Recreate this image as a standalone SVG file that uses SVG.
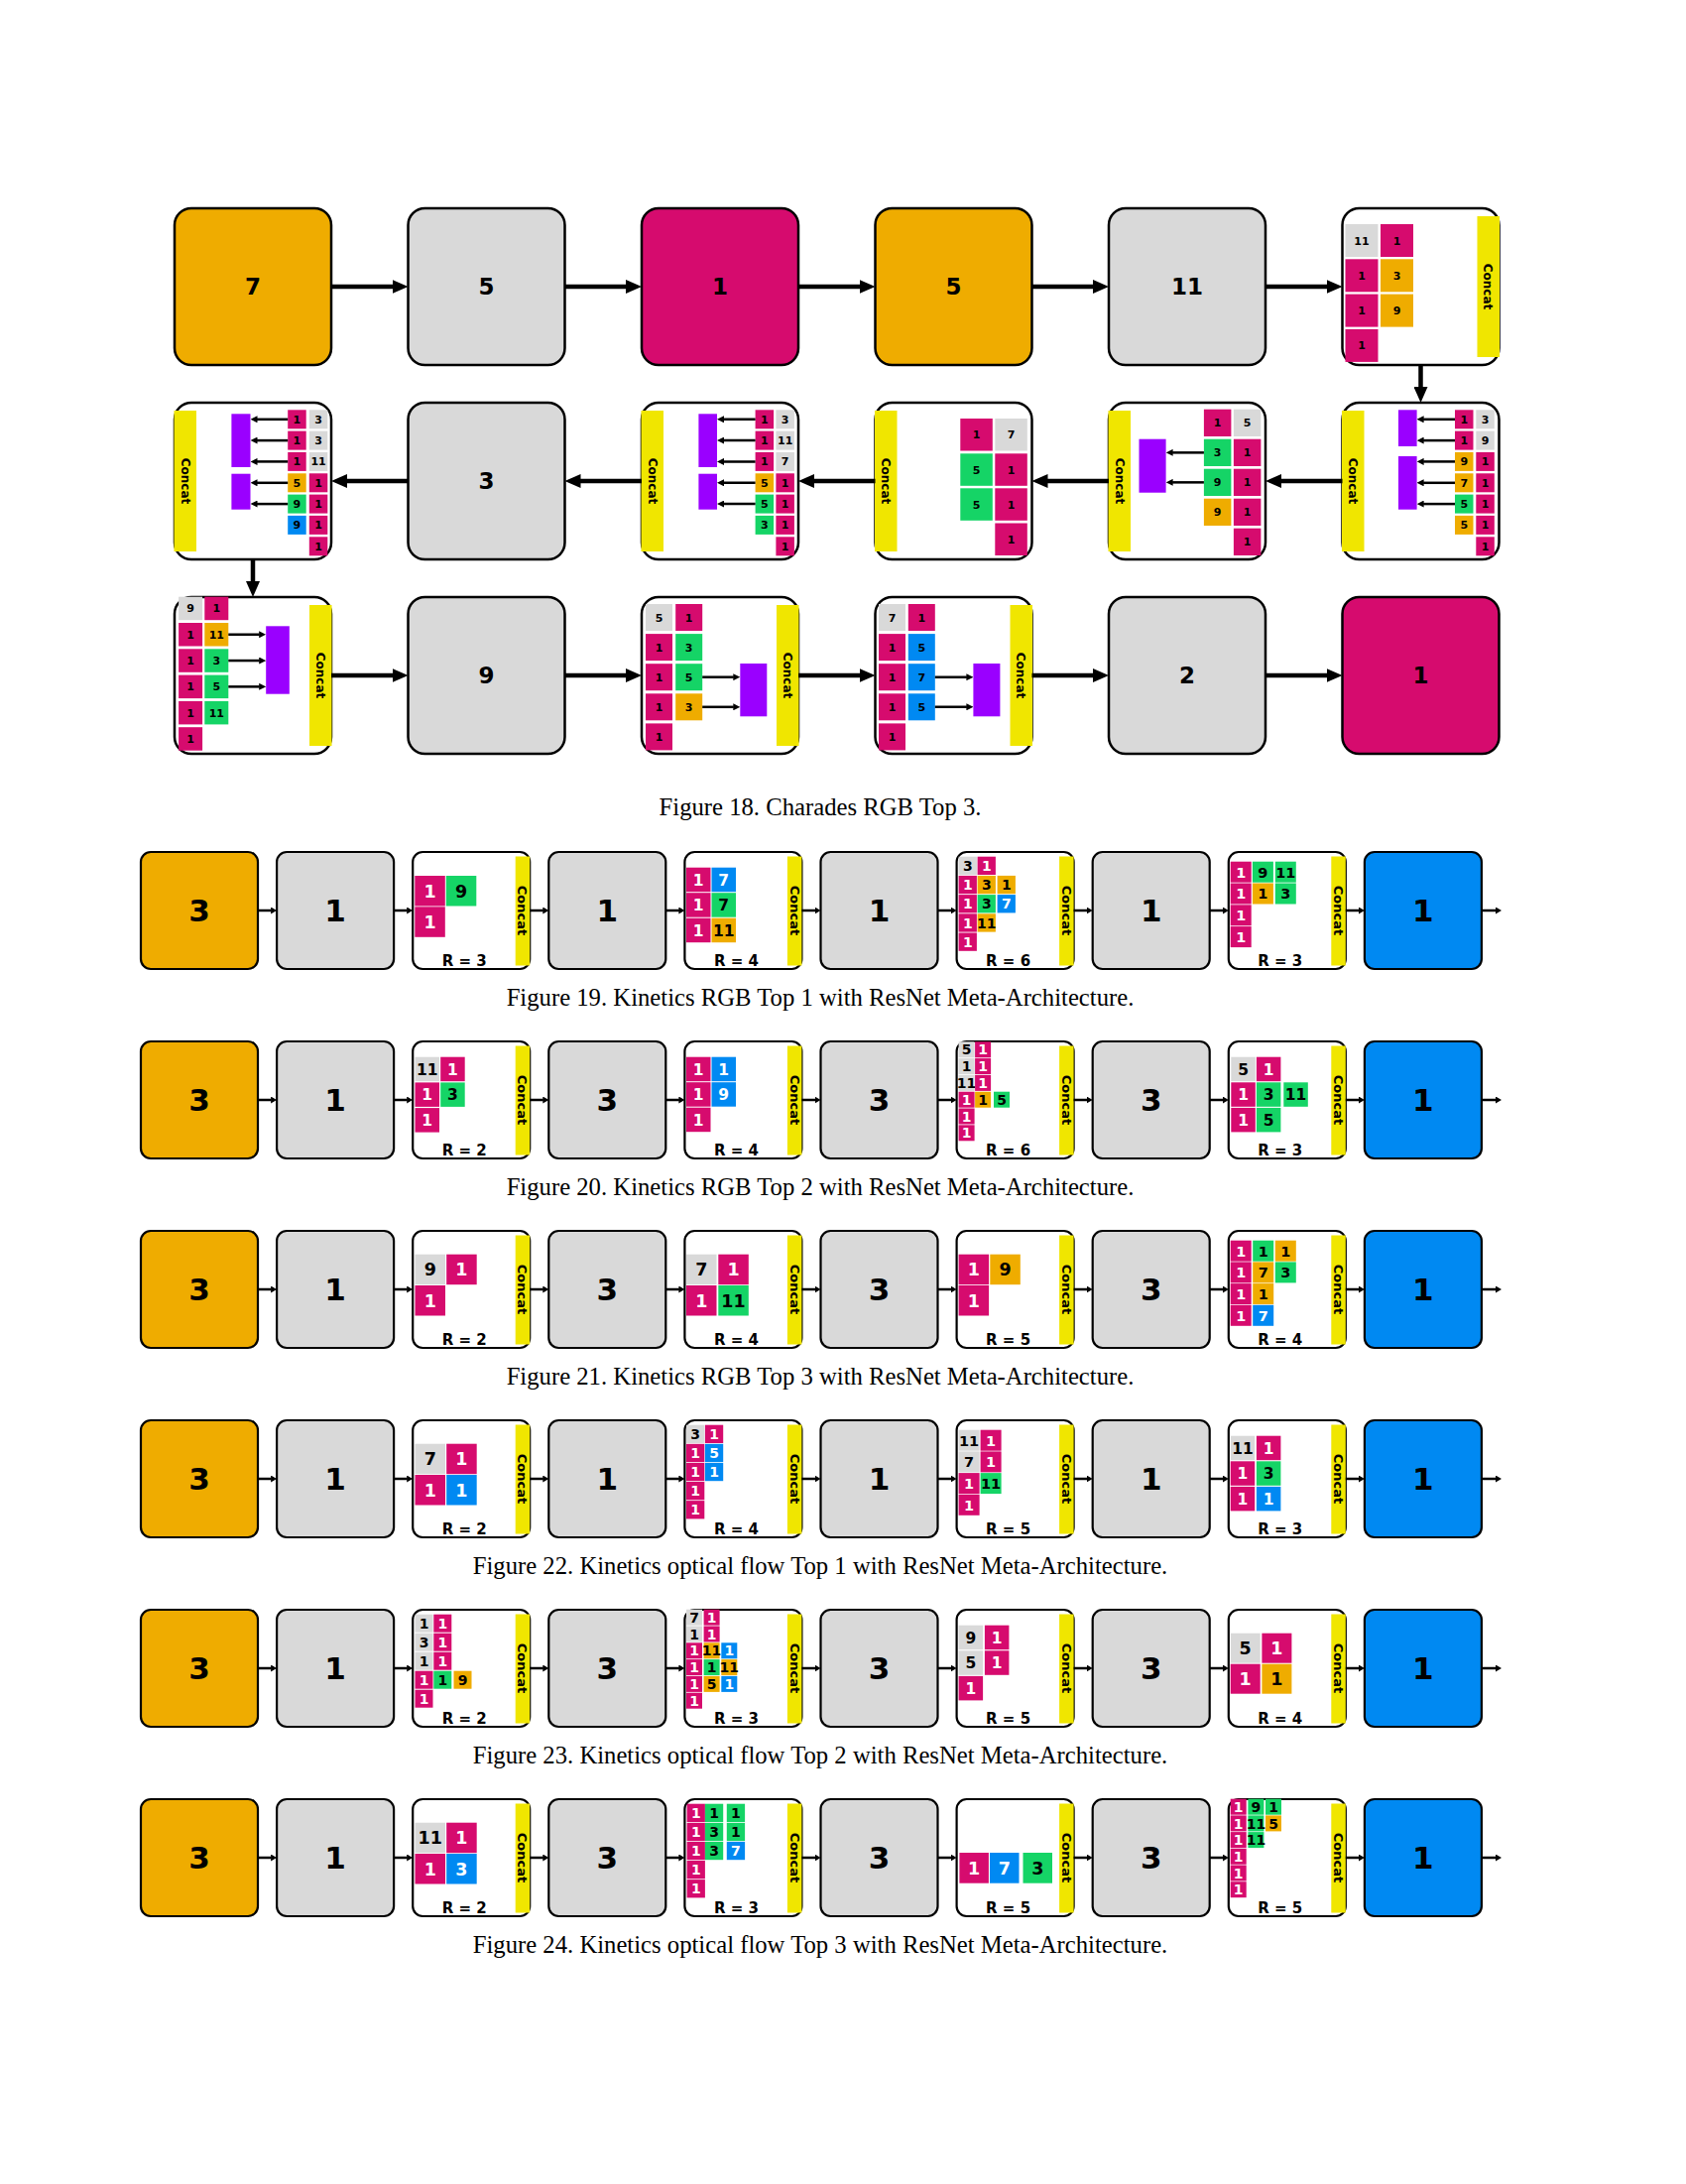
<svg xmlns="http://www.w3.org/2000/svg" width="1700" height="2202" viewBox="0 0 1700 2202">
<style>
.m{fill:#D60B6E}.o{fill:#EFAC00}.g{fill:#D9D9D9}.e{fill:#15D466}.b{fill:#0089F2}.y{fill:#F0E600}.p{fill:#9A00FF}
.bk{stroke:#000;stroke-width:2.2}
.bk18{stroke:#000;stroke-width:2.5}
.cw{fill:#fff;stroke:#000;stroke-width:2.2}
.cw18{fill:#fff;stroke:#000;stroke-width:2.5}
.t{font-family:"DejaVu Sans",Verdana,sans-serif;font-weight:bold;text-anchor:middle;fill:#000}
.w{fill:#fff}
.f11{font-size:11px}.f14{font-size:14px}.f145{font-size:14.5px}.f15{font-size:15.5px}.f17{font-size:17.5px}
.L23{font-size:23px}.L31{font-size:31px}.cc12{font-size:12px}.cc{font-size:13px}.r{font-size:15px}
.ln{stroke:#000;stroke-width:4.5;fill:none}
.ls{stroke:#000;stroke-width:2.5;fill:none}
.cap{font-family:"Liberation Serif","Times New Roman",serif;font-size:24.7px;text-anchor:middle;fill:#000}
</style>
<defs>
<marker id="ah" markerUnits="userSpaceOnUse" markerWidth="16" markerHeight="14" refX="1" refY="7" orient="auto"><path d="M0,0L16,7L0,14Z"/></marker>
<marker id="as" markerUnits="userSpaceOnUse" markerWidth="7" markerHeight="7" refX="0.5" refY="3.5" orient="auto"><path d="M0,0L7,3.5L0,7Z"/></marker>
<marker id="af" markerUnits="userSpaceOnUse" markerWidth="6" markerHeight="7" refX="0.5" refY="3.5" orient="auto"><path d="M0,0L6,3.5L0,7Z"/></marker>
</defs>
<rect width="1700" height="2202" fill="#fff"/>

<!-- ================= FIGURE 18 ================= -->
<g id="fig18">
<g id="f18-a1"><rect class="bk18 o" x="176" y="210" width="158" height="158" rx="17"/><text class="t L23" x="255" y="297.4">7</text></g>
<g id="f18-a2"><rect class="bk18 g" x="411.5" y="210" width="158" height="158" rx="17"/><text class="t L23" x="490.5" y="297.4">5</text></g>
<g id="f18-a3"><rect class="bk18 m" x="647" y="210" width="158" height="158" rx="17"/><text class="t L23" x="726" y="297.4">1</text></g>
<g id="f18-a4"><rect class="bk18 o" x="882.5" y="210" width="158" height="158" rx="17"/><text class="t L23" x="961.5" y="297.4">5</text></g>
<g id="f18-a5"><rect class="bk18 g" x="1118" y="210" width="158" height="158" rx="17"/><text class="t L23" x="1197" y="297.4">11</text></g>
<g id="f18-a6">
<rect class="cw18" x="1353.5" y="210" width="158" height="158" rx="17"/>
<rect class="y" x="1489.5" y="218" width="22.5" height="142"/>
<text class="t cc12" transform="translate(1500.5,289) rotate(90)" y="4.4">Concat</text>
<rect class="g" x="1356.5" y="226" width="33" height="33"/><text class="t f11" x="1373" y="246.5">11</text>
<rect class="m" x="1392" y="226" width="33" height="33"/><text class="t f11" x="1408.5" y="246.5">1</text>
<rect class="m" x="1356.5" y="261.3" width="33" height="33"/><text class="t f11" x="1373" y="281.8">1</text>
<rect class="o" x="1392" y="261.3" width="33" height="33"/><text class="t f11" x="1408.5" y="281.8">3</text>
<rect class="m" x="1356.5" y="296.6" width="33" height="33"/><text class="t f11" x="1373" y="317.1">1</text>
<rect class="o" x="1392" y="296.6" width="33" height="33"/><text class="t f11" x="1408.5" y="317.1">9</text>
<rect class="m" x="1356.5" y="331.9" width="33" height="33"/><text class="t f11" x="1373" y="352.4">1</text>
</g>

<g id="f18-b1">
<rect class="cw18" x="176" y="406" width="158" height="158" rx="17"/>
<rect class="y" x="175.5" y="414" width="22.5" height="142"/>
<text class="t cc12" transform="translate(187,485) rotate(90)" y="4.4">Concat</text>
<rect class="p" x="233.4" y="417.3" width="19.1" height="53.7"/>
<rect class="p" x="233.4" y="477.7" width="19.1" height="36"/>
<rect class="m" x="290.2" y="413.3" width="18.5" height="19"/><text class="t f11" x="299.45" y="426.8">1</text>
<rect class="g" x="311.8" y="413.3" width="18.5" height="19"/><text class="t f11" x="321.05" y="426.8">3</text>
<rect class="m" x="290.2" y="434.6" width="18.5" height="19"/><text class="t f11" x="299.45" y="448.1">1</text>
<rect class="g" x="311.8" y="434.6" width="18.5" height="19"/><text class="t f11" x="321.05" y="448.1">3</text>
<rect class="m" x="290.2" y="455.9" width="18.5" height="19"/><text class="t f11" x="299.45" y="469.4">1</text>
<rect class="g" x="311.8" y="455.9" width="18.5" height="19"/><text class="t f11" x="321.05" y="469.4">11</text>
<rect class="o" x="290.2" y="477.3" width="18.5" height="19"/><text class="t f11" x="299.45" y="490.8">5</text>
<rect class="m" x="311.8" y="477.3" width="18.5" height="19"/><text class="t f11" x="321.05" y="490.8">1</text>
<rect class="e" x="290.2" y="498.6" width="18.5" height="19"/><text class="t f11" x="299.45" y="512.1">9</text>
<rect class="m" x="311.8" y="498.6" width="18.5" height="19"/><text class="t f11" x="321.05" y="512.1">1</text>
<rect class="b" x="290.2" y="519.9" width="18.5" height="19"/><text class="t f11" x="299.45" y="533.4">9</text>
<rect class="m" x="311.8" y="519.9" width="18.5" height="19"/><text class="t f11" x="321.05" y="533.4">1</text>
<rect class="m" x="311.8" y="541.3" width="18.5" height="19"/><text class="t f11" x="321.05" y="554.8">1</text>
</g>
<g id="f18-b2"><rect class="bk18 g" x="411.5" y="406" width="158" height="158" rx="17"/><text class="t L23" x="490.5" y="493.4">3</text></g>
<g id="f18-b3">
<rect class="cw18" x="647" y="406" width="158" height="158" rx="17"/>
<rect class="y" x="646.5" y="414" width="22.5" height="142"/>
<text class="t cc12" transform="translate(658,485) rotate(90)" y="4.4">Concat</text>
<rect class="p" x="704.4" y="417.3" width="18.6" height="53.7"/>
<rect class="p" x="704.4" y="477.7" width="18.6" height="36"/>
<rect class="m" x="761.6" y="413.3" width="18.5" height="19"/><text class="t f11" x="770.85" y="426.8">1</text>
<rect class="g" x="782.4" y="413.3" width="18.5" height="19"/><text class="t f11" x="791.65" y="426.8">3</text>
<rect class="m" x="761.6" y="434.6" width="18.5" height="19"/><text class="t f11" x="770.85" y="448.1">1</text>
<rect class="g" x="782.4" y="434.6" width="18.5" height="19"/><text class="t f11" x="791.65" y="448.1">11</text>
<rect class="m" x="761.6" y="455.9" width="18.5" height="19"/><text class="t f11" x="770.85" y="469.4">1</text>
<rect class="g" x="782.4" y="455.9" width="18.5" height="19"/><text class="t f11" x="791.65" y="469.4">7</text>
<rect class="o" x="761.6" y="477.3" width="18.5" height="19"/><text class="t f11" x="770.85" y="490.8">5</text>
<rect class="m" x="782.4" y="477.3" width="18.5" height="19"/><text class="t f11" x="791.65" y="490.8">1</text>
<rect class="e" x="761.6" y="498.6" width="18.5" height="19"/><text class="t f11" x="770.85" y="512.1">5</text>
<rect class="m" x="782.4" y="498.6" width="18.5" height="19"/><text class="t f11" x="791.65" y="512.1">1</text>
<rect class="e" x="761.6" y="519.9" width="18.5" height="19"/><text class="t f11" x="770.85" y="533.4">3</text>
<rect class="m" x="782.4" y="519.9" width="18.5" height="19"/><text class="t f11" x="791.65" y="533.4">1</text>
<rect class="m" x="782.4" y="541.3" width="18.5" height="19"/><text class="t f11" x="791.65" y="554.8">1</text>
</g>
<g id="f18-b4">
<rect class="cw18" x="882.5" y="406" width="158" height="158" rx="17"/>
<rect class="y" x="882" y="414" width="22.5" height="142"/>
<text class="t cc12" transform="translate(893.5,485) rotate(90)" y="4.4">Concat</text>
<rect class="m" x="968.3" y="422" width="32.5" height="32.5"/><text class="t f11" x="984.55" y="442.25">1</text>
<rect class="g" x="1003.3" y="422" width="32.5" height="32.5"/><text class="t f11" x="1019.55" y="442.25">7</text>
<rect class="e" x="968.3" y="457.3" width="32.5" height="32.5"/><text class="t f11" x="984.55" y="477.55">5</text>
<rect class="m" x="1003.3" y="457.3" width="32.5" height="32.5"/><text class="t f11" x="1019.55" y="477.55">1</text>
<rect class="e" x="968.3" y="492.3" width="32.5" height="32.5"/><text class="t f11" x="984.55" y="512.55">5</text>
<rect class="m" x="1003.3" y="492.3" width="32.5" height="32.5"/><text class="t f11" x="1019.55" y="512.55">1</text>
<rect class="m" x="1003.3" y="527.5" width="32.5" height="32.5"/><text class="t f11" x="1019.55" y="547.75">1</text>
</g>
<g id="f18-b5">
<rect class="cw18" x="1118" y="406" width="158" height="158" rx="17"/>
<rect class="y" x="1117.5" y="414" width="22.5" height="142"/>
<text class="t cc12" transform="translate(1129,485) rotate(90)" y="4.4">Concat</text>
<rect class="p" x="1148.5" y="442.7" width="27.1" height="54"/>
<rect class="m" x="1213.9" y="412.7" width="27.5" height="27.3"/><text class="t f11" x="1227.65" y="430.35">1</text>
<rect class="g" x="1243.9" y="412.7" width="27.5" height="27.3"/><text class="t f11" x="1257.65" y="430.35">5</text>
<rect class="e" x="1213.9" y="442.7" width="27.5" height="27.3"/><text class="t f11" x="1227.65" y="460.35">3</text>
<rect class="m" x="1243.9" y="442.7" width="27.5" height="27.3"/><text class="t f11" x="1257.65" y="460.35">1</text>
<rect class="e" x="1213.9" y="472.7" width="27.5" height="27.3"/><text class="t f11" x="1227.65" y="490.35">9</text>
<rect class="m" x="1243.9" y="472.7" width="27.5" height="27.3"/><text class="t f11" x="1257.65" y="490.35">1</text>
<rect class="o" x="1213.9" y="502.7" width="27.5" height="27.3"/><text class="t f11" x="1227.65" y="520.35">9</text>
<rect class="m" x="1243.9" y="502.7" width="27.5" height="27.3"/><text class="t f11" x="1257.65" y="520.35">1</text>
<rect class="m" x="1243.9" y="532.7" width="27.5" height="27.3"/><text class="t f11" x="1257.65" y="550.35">1</text>
</g>
<g id="f18-b6">
<rect class="cw18" x="1353.5" y="406" width="158" height="158" rx="17"/>
<rect class="y" x="1353" y="414" width="22.5" height="142"/>
<text class="t cc12" transform="translate(1364.5,485) rotate(90)" y="4.4">Concat</text>
<rect class="p" x="1410" y="413.3" width="18.6" height="36.7"/>
<rect class="p" x="1410" y="460" width="18.6" height="53.7"/>
<rect class="m" x="1467" y="413.3" width="18.5" height="19"/><text class="t f11" x="1476.25" y="426.8">1</text>
<rect class="g" x="1488.3" y="413.3" width="18.5" height="19"/><text class="t f11" x="1497.55" y="426.8">3</text>
<rect class="m" x="1467" y="434.6" width="18.5" height="19"/><text class="t f11" x="1476.25" y="448.1">1</text>
<rect class="g" x="1488.3" y="434.6" width="18.5" height="19"/><text class="t f11" x="1497.55" y="448.1">9</text>
<rect class="o" x="1467" y="455.9" width="18.5" height="19"/><text class="t f11" x="1476.25" y="469.4">9</text>
<rect class="m" x="1488.3" y="455.9" width="18.5" height="19"/><text class="t f11" x="1497.55" y="469.4">1</text>
<rect class="o" x="1467" y="477.3" width="18.5" height="19"/><text class="t f11" x="1476.25" y="490.8">7</text>
<rect class="m" x="1488.3" y="477.3" width="18.5" height="19"/><text class="t f11" x="1497.55" y="490.8">1</text>
<rect class="e" x="1467" y="498.6" width="18.5" height="19"/><text class="t f11" x="1476.25" y="512.1">5</text>
<rect class="m" x="1488.3" y="498.6" width="18.5" height="19"/><text class="t f11" x="1497.55" y="512.1">1</text>
<rect class="o" x="1467" y="519.9" width="18.5" height="19"/><text class="t f11" x="1476.25" y="533.4">5</text>
<rect class="m" x="1488.3" y="519.9" width="18.5" height="19"/><text class="t f11" x="1497.55" y="533.4">1</text>
<rect class="m" x="1488.3" y="541.3" width="18.5" height="19"/><text class="t f11" x="1497.55" y="554.8">1</text>
</g>

<g id="f18-c1">
<rect class="cw18" x="176" y="602" width="158" height="158" rx="17"/>
<rect class="y" x="312" y="610" width="22.5" height="142"/>
<text class="t cc12" transform="translate(323,681) rotate(90)" y="4.4">Concat</text>
<rect class="p" x="268.2" y="631.3" width="23.6" height="68.4"/>
<rect class="g" x="180.1" y="601.7" width="24" height="23.5"/><text class="t f11" x="192.1" y="617.45">9</text>
<rect class="m" x="206.3" y="601.7" width="24" height="23.5"/><text class="t f11" x="218.3" y="617.45">1</text>
<rect class="m" x="180.1" y="628" width="24" height="23.5"/><text class="t f11" x="192.1" y="643.75">1</text>
<rect class="o" x="206.3" y="628" width="24" height="23.5"/><text class="t f11" x="218.3" y="643.75">11</text>
<rect class="m" x="180.1" y="654.3" width="24" height="23.5"/><text class="t f11" x="192.1" y="670.05">1</text>
<rect class="e" x="206.3" y="654.3" width="24" height="23.5"/><text class="t f11" x="218.3" y="670.05">3</text>
<rect class="m" x="180.1" y="680.6" width="24" height="23.5"/><text class="t f11" x="192.1" y="696.35">1</text>
<rect class="e" x="206.3" y="680.6" width="24" height="23.5"/><text class="t f11" x="218.3" y="696.35">5</text>
<rect class="m" x="180.1" y="706.9" width="24" height="23.5"/><text class="t f11" x="192.1" y="722.65">1</text>
<rect class="e" x="206.3" y="706.9" width="24" height="23.5"/><text class="t f11" x="218.3" y="722.65">11</text>
<rect class="m" x="180.1" y="733.2" width="24" height="23.5"/><text class="t f11" x="192.1" y="748.95">1</text>
</g>
<g id="f18-c2"><rect class="bk18 g" x="411.5" y="602" width="158" height="158" rx="17"/><text class="t L23" x="490.5" y="689.4">9</text></g>
<g id="f18-c3">
<rect class="cw18" x="647" y="602" width="158" height="158" rx="17"/>
<rect class="y" x="783" y="610" width="22.5" height="142"/>
<text class="t cc12" transform="translate(794,681) rotate(90)" y="4.4">Concat</text>
<rect class="p" x="746.3" y="669" width="27" height="53.3"/>
<rect class="g" x="651" y="609" width="27" height="27"/><text class="t f11" x="664.5" y="626.5">5</text>
<rect class="m" x="681.2" y="609" width="27" height="27"/><text class="t f11" x="694.7" y="626.5">1</text>
<rect class="m" x="651" y="639.1" width="27" height="27"/><text class="t f11" x="664.5" y="656.6">1</text>
<rect class="e" x="681.2" y="639.1" width="27" height="27"/><text class="t f11" x="694.7" y="656.6">3</text>
<rect class="m" x="651" y="669.2" width="27" height="27"/><text class="t f11" x="664.5" y="686.7">1</text>
<rect class="e" x="681.2" y="669.2" width="27" height="27"/><text class="t f11" x="694.7" y="686.7">5</text>
<rect class="m" x="651" y="699.3" width="27" height="27"/><text class="t f11" x="664.5" y="716.8">1</text>
<rect class="o" x="681.2" y="699.3" width="27" height="27"/><text class="t f11" x="694.7" y="716.8">3</text>
<rect class="m" x="651" y="729.4" width="27" height="27"/><text class="t f11" x="664.5" y="746.9">1</text>
</g>
<g id="f18-c4">
<rect class="cw18" x="882.5" y="602" width="158" height="158" rx="17"/>
<rect class="y" x="1018.5" y="610" width="22.5" height="142"/>
<text class="t cc12" transform="translate(1029.5,681) rotate(90)" y="4.4">Concat</text>
<rect class="p" x="981.4" y="669" width="27" height="53.3"/>
<rect class="g" x="886" y="609" width="27" height="27"/><text class="t f11" x="899.5" y="626.5">7</text>
<rect class="m" x="915.8" y="609" width="27" height="27"/><text class="t f11" x="929.3" y="626.5">1</text>
<rect class="m" x="886" y="639.1" width="27" height="27"/><text class="t f11" x="899.5" y="656.6">1</text>
<rect class="b" x="915.8" y="639.1" width="27" height="27"/><text class="t f11" x="929.3" y="656.6">5</text>
<rect class="m" x="886" y="669.2" width="27" height="27"/><text class="t f11" x="899.5" y="686.7">1</text>
<rect class="b" x="915.8" y="669.2" width="27" height="27"/><text class="t f11" x="929.3" y="686.7">7</text>
<rect class="m" x="886" y="699.3" width="27" height="27"/><text class="t f11" x="899.5" y="716.8">1</text>
<rect class="b" x="915.8" y="699.3" width="27" height="27"/><text class="t f11" x="929.3" y="716.8">5</text>
<rect class="m" x="886" y="729.4" width="27" height="27"/><text class="t f11" x="899.5" y="746.9">1</text>
</g>
<g id="f18-c5"><rect class="bk18 g" x="1118" y="602" width="158" height="158" rx="17"/><text class="t L23" x="1197" y="689.4">2</text></g>
<g id="f18-c6"><rect class="bk18 m" x="1353.5" y="602" width="158" height="158" rx="17"/><text class="t L23" x="1432.5" y="689.4">1</text></g>
</g>

<g id="connectors18">
<line class="ln" x1="334" y1="289" x2="396.5" y2="289" marker-end="url(#ah)"/>
<line class="ln" x1="569.5" y1="289" x2="632" y2="289" marker-end="url(#ah)"/>
<line class="ln" x1="805" y1="289" x2="867.5" y2="289" marker-end="url(#ah)"/>
<line class="ln" x1="1040.5" y1="289" x2="1103" y2="289" marker-end="url(#ah)"/>
<line class="ln" x1="1276" y1="289" x2="1338.5" y2="289" marker-end="url(#ah)"/>
<line class="ln" x1="1432.5" y1="368" x2="1432.5" y2="391" marker-end="url(#ah)"/>
<line class="ln" x1="1353.5" y1="485" x2="1291" y2="485" marker-end="url(#ah)"/>
<line class="ln" x1="1118" y1="485" x2="1055.5" y2="485" marker-end="url(#ah)"/>
<line class="ln" x1="882.5" y1="485" x2="820" y2="485" marker-end="url(#ah)"/>
<line class="ln" x1="647" y1="485" x2="584.5" y2="485" marker-end="url(#ah)"/>
<line class="ln" x1="411.5" y1="485" x2="349" y2="485" marker-end="url(#ah)"/>
<line class="ln" x1="255" y1="564" x2="255" y2="587" marker-end="url(#ah)"/>
<line class="ln" x1="334" y1="681" x2="396.5" y2="681" marker-end="url(#ah)"/>
<line class="ln" x1="569.5" y1="681" x2="632" y2="681" marker-end="url(#ah)"/>
<line class="ln" x1="805" y1="681" x2="867.5" y2="681" marker-end="url(#ah)"/>
<line class="ln" x1="1040.5" y1="681" x2="1103" y2="681" marker-end="url(#ah)"/>
<line class="ln" x1="1276" y1="681" x2="1338.5" y2="681" marker-end="url(#ah)"/>
<line class="ls" x1="290.2" y1="422.8" x2="259" y2="422.8" marker-end="url(#as)"/>
<line class="ls" x1="290.2" y1="444.1" x2="259" y2="444.1" marker-end="url(#as)"/>
<line class="ls" x1="290.2" y1="465.4" x2="259" y2="465.4" marker-end="url(#as)"/>
<line class="ls" x1="290.2" y1="486.8" x2="259" y2="486.8" marker-end="url(#as)"/>
<line class="ls" x1="290.2" y1="508.1" x2="259" y2="508.1" marker-end="url(#as)"/>
<line class="ls" x1="761.6" y1="422.8" x2="729.5" y2="422.8" marker-end="url(#as)"/>
<line class="ls" x1="761.6" y1="444.1" x2="729.5" y2="444.1" marker-end="url(#as)"/>
<line class="ls" x1="761.6" y1="465.4" x2="729.5" y2="465.4" marker-end="url(#as)"/>
<line class="ls" x1="761.6" y1="486.8" x2="729.5" y2="486.8" marker-end="url(#as)"/>
<line class="ls" x1="761.6" y1="508.1" x2="729.5" y2="508.1" marker-end="url(#as)"/>
<line class="ls" x1="1213.9" y1="456.35" x2="1182.1" y2="456.35" marker-end="url(#as)"/>
<line class="ls" x1="1213.9" y1="486.35" x2="1182.1" y2="486.35" marker-end="url(#as)"/>
<line class="ls" x1="1467" y1="422.8" x2="1435.1" y2="422.8" marker-end="url(#as)"/>
<line class="ls" x1="1467" y1="444.1" x2="1435.1" y2="444.1" marker-end="url(#as)"/>
<line class="ls" x1="1467" y1="465.4" x2="1435.1" y2="465.4" marker-end="url(#as)"/>
<line class="ls" x1="1467" y1="486.8" x2="1435.1" y2="486.8" marker-end="url(#as)"/>
<line class="ls" x1="1467" y1="508.1" x2="1435.1" y2="508.1" marker-end="url(#as)"/>
<line class="ls" x1="230.3" y1="639.75" x2="261.7" y2="639.75" marker-end="url(#as)"/>
<line class="ls" x1="230.3" y1="666.05" x2="261.7" y2="666.05" marker-end="url(#as)"/>
<line class="ls" x1="230.3" y1="692.35" x2="261.7" y2="692.35" marker-end="url(#as)"/>
<line class="ls" x1="708.2" y1="682.7" x2="739.8" y2="682.7" marker-end="url(#as)"/>
<line class="ls" x1="708.2" y1="712.8" x2="739.8" y2="712.8" marker-end="url(#as)"/>
<line class="ls" x1="942.8" y1="682.7" x2="974.9" y2="682.7" marker-end="url(#as)"/>
<line class="ls" x1="942.8" y1="712.8" x2="974.9" y2="712.8" marker-end="url(#as)"/>
</g>
<text class="cap" x="827" y="821.5">Figure 18. Charades RGB Top 3.</text>

<!-- ================= FIGURE 19 ================= -->
<g id="fig19">
<g id="f19-n1"><rect class="bk o" x="142" y="859" width="118" height="118" rx="10"/><text class="t L31" x="201" y="929.3">3</text></g>
<g id="f19-n2"><rect class="bk g" x="279.1" y="859" width="118" height="118" rx="10"/><text class="t L31" x="338.1" y="929.3">1</text></g>
<g id="f19-n3">
<rect class="cw" x="416.2" y="859" width="118" height="118" rx="10"/><rect class="y" x="519.7" y="863.5" width="14.5" height="110"/>
<text class="t cc" transform="translate(527.2,918) rotate(90)" y="4.7">Concat</text><text class="t r" x="468.2" y="974">R = 3</text>
<rect class="m" x="418.3" y="883" width="30.5" height="30.5"/><text class="t f17 w" x="433.55" y="904.6">1</text>
<rect class="e" x="449.8" y="883" width="30.5" height="30.5"/><text class="t f17" x="465.05" y="904.6">9</text>
<rect class="m" x="418.3" y="914.3" width="30.5" height="30.5"/><text class="t f17 w" x="433.55" y="935.9">1</text>
</g>
<g id="f19-n4"><rect class="bk g" x="553.3" y="859" width="118" height="118" rx="10"/><text class="t L31" x="612.3" y="929.3">1</text></g>
<g id="f19-n5">
<rect class="cw" x="690.4" y="859" width="118" height="118" rx="10"/><rect class="y" x="793.9" y="863.5" width="14.5" height="110"/>
<text class="t cc" transform="translate(801.4,918) rotate(90)" y="4.7">Concat</text><text class="t r" x="742.4" y="974">R = 4</text>
<rect class="m" x="692" y="874.7" width="24.5" height="24.5"/><text class="t f15 w" x="704.25" y="892.6">1</text>
<rect class="b" x="717.5" y="874.7" width="24.5" height="24.5"/><text class="t f15 w" x="729.75" y="892.6">7</text>
<rect class="m" x="692" y="900.2" width="24.5" height="24.5"/><text class="t f15 w" x="704.25" y="918.1">1</text>
<rect class="e" x="717.5" y="900.2" width="24.5" height="24.5"/><text class="t f15" x="729.75" y="918.1">7</text>
<rect class="m" x="692" y="925.7" width="24.5" height="24.5"/><text class="t f15 w" x="704.25" y="943.6">1</text>
<rect class="o" x="717.5" y="925.7" width="24.5" height="24.5"/><text class="t f15" x="729.75" y="943.6">11</text>
</g>
<g id="f19-n6"><rect class="bk g" x="827.5" y="859" width="118" height="118" rx="10"/><text class="t L31" x="886.5" y="929.3">1</text></g>
<g id="f19-n7">
<rect class="cw" x="964.6" y="859" width="118" height="118" rx="10"/><rect class="y" x="1068.1" y="863.5" width="14.5" height="110"/>
<text class="t cc" transform="translate(1075.6,918) rotate(90)" y="4.7">Concat</text><text class="t r" x="1016.6" y="974">R = 6</text>
<rect class="g" x="966.6" y="863.7" width="18.3" height="18.3"/><text class="t f14" x="975.75" y="877.95">3</text>
<rect class="m" x="985.6" y="863.7" width="18.3" height="18.3"/><text class="t f14 w" x="994.75" y="877.95">1</text>
<rect class="m" x="966.6" y="882.9" width="18.3" height="18.3"/><text class="t f14 w" x="975.75" y="897.15">1</text>
<rect class="o" x="985.6" y="882.9" width="18.3" height="18.3"/><text class="t f14" x="994.75" y="897.15">3</text>
<rect class="o" x="1005.6" y="882.9" width="18.3" height="18.3"/><text class="t f14" x="1014.75" y="897.15">1</text>
<rect class="m" x="966.6" y="902.1" width="18.3" height="18.3"/><text class="t f14 w" x="975.75" y="916.35">1</text>
<rect class="e" x="985.6" y="902.1" width="18.3" height="18.3"/><text class="t f14" x="994.75" y="916.35">3</text>
<rect class="b" x="1005.6" y="902.1" width="18.3" height="18.3"/><text class="t f14 w" x="1014.75" y="916.35">7</text>
<rect class="m" x="966.6" y="921.3" width="18.3" height="18.3"/><text class="t f14 w" x="975.75" y="935.55">1</text>
<rect class="o" x="985.6" y="921.3" width="18.3" height="18.3"/><text class="t f14" x="994.75" y="935.55">11</text>
<rect class="m" x="966.6" y="940.5" width="18.3" height="18.3"/><text class="t f14 w" x="975.75" y="954.75">1</text>
</g>
<g id="f19-n8"><rect class="bk g" x="1101.7" y="859" width="118" height="118" rx="10"/><text class="t L31" x="1160.7" y="929.3">1</text></g>
<g id="f19-n9">
<rect class="cw" x="1238.8" y="859" width="118" height="118" rx="10"/><rect class="y" x="1342.3" y="863.5" width="14.5" height="110"/>
<text class="t cc" transform="translate(1349.8,918) rotate(90)" y="4.7">Concat</text><text class="t r" x="1290.8" y="974">R = 3</text>
<rect class="m" x="1240.7" y="868.7" width="21" height="21"/><text class="t f145 w" x="1251.2" y="884.5">1</text>
<rect class="e" x="1262.9" y="868.7" width="21" height="21"/><text class="t f145" x="1273.4" y="884.5">9</text>
<rect class="e" x="1285.8" y="868.7" width="21" height="21"/><text class="t f145" x="1296.3" y="884.5">11</text>
<rect class="m" x="1240.7" y="890.5" width="21" height="21"/><text class="t f145 w" x="1251.2" y="906.3">1</text>
<rect class="o" x="1262.9" y="890.5" width="21" height="21"/><text class="t f145" x="1273.4" y="906.3">1</text>
<rect class="e" x="1285.8" y="890.5" width="21" height="21"/><text class="t f145" x="1296.3" y="906.3">3</text>
<rect class="m" x="1240.7" y="912.3" width="21" height="21"/><text class="t f145 w" x="1251.2" y="928.1">1</text>
<rect class="m" x="1240.7" y="934.1" width="21" height="21"/><text class="t f145 w" x="1251.2" y="949.9">1</text>
</g>
<g id="f19-n10"><rect class="bk b" x="1375.9" y="859" width="118" height="118" rx="10"/><text class="t L31" x="1434.9" y="929.3">1</text></g>
</g>

<!-- ================= FIGURE 20 ================= -->
<g id="fig20">
<g id="f20-n1"><rect class="bk o" x="142" y="1050" width="118" height="118" rx="10"/><text class="t L31" x="201" y="1120.3">3</text></g>
<g id="f20-n2"><rect class="bk g" x="279.1" y="1050" width="118" height="118" rx="10"/><text class="t L31" x="338.1" y="1120.3">1</text></g>
<g id="f20-n3">
<rect class="cw" x="416.2" y="1050" width="118" height="118" rx="10"/><rect class="y" x="519.7" y="1054.5" width="14.5" height="110"/>
<text class="t cc" transform="translate(527.2,1109) rotate(90)" y="4.7">Concat</text><text class="t r" x="468.2" y="1165">R = 2</text>
<rect class="g" x="418.5" y="1065.7" width="24.5" height="24.5"/><text class="t f15" x="430.75" y="1083.6">11</text>
<rect class="m" x="444.2" y="1065.7" width="24.5" height="24.5"/><text class="t f15 w" x="456.45" y="1083.6">1</text>
<rect class="m" x="418.5" y="1091.4" width="24.5" height="24.5"/><text class="t f15 w" x="430.75" y="1109.3">1</text>
<rect class="e" x="444.2" y="1091.4" width="24.5" height="24.5"/><text class="t f15" x="456.45" y="1109.3">3</text>
<rect class="m" x="418.5" y="1117.1" width="24.5" height="24.5"/><text class="t f15 w" x="430.75" y="1135">1</text>
</g>
<g id="f20-n4"><rect class="bk g" x="553.3" y="1050" width="118" height="118" rx="10"/><text class="t L31" x="612.3" y="1120.3">3</text></g>
<g id="f20-n5">
<rect class="cw" x="690.4" y="1050" width="118" height="118" rx="10"/><rect class="y" x="793.9" y="1054.5" width="14.5" height="110"/>
<text class="t cc" transform="translate(801.4,1109) rotate(90)" y="4.7">Concat</text><text class="t r" x="742.4" y="1165">R = 4</text>
<rect class="m" x="692" y="1065.7" width="24.5" height="24.5"/><text class="t f15 w" x="704.25" y="1083.6">1</text>
<rect class="b" x="717.5" y="1065.7" width="24.5" height="24.5"/><text class="t f15 w" x="729.75" y="1083.6">1</text>
<rect class="m" x="692" y="1091.2" width="24.5" height="24.5"/><text class="t f15 w" x="704.25" y="1109.1">1</text>
<rect class="b" x="717.5" y="1091.2" width="24.5" height="24.5"/><text class="t f15 w" x="729.75" y="1109.1">9</text>
<rect class="m" x="692" y="1116.7" width="24.5" height="24.5"/><text class="t f15 w" x="704.25" y="1134.6">1</text>
</g>
<g id="f20-n6"><rect class="bk g" x="827.5" y="1050" width="118" height="118" rx="10"/><text class="t L31" x="886.5" y="1120.3">3</text></g>
<g id="f20-n7">
<rect class="cw" x="964.6" y="1050" width="118" height="118" rx="10"/><rect class="y" x="1068.1" y="1054.5" width="14.5" height="110"/>
<text class="t cc" transform="translate(1075.6,1109) rotate(90)" y="4.7">Concat</text><text class="t r" x="1016.6" y="1165">R = 6</text>
<rect class="g" x="966.6" y="1050.3" width="16" height="16"/><text class="t f14" x="974.6" y="1063.4">5</text>
<rect class="m" x="983.1" y="1050.3" width="16" height="16"/><text class="t f14 w" x="991.1" y="1063.4">1</text>
<rect class="g" x="966.6" y="1067.1" width="16" height="16"/><text class="t f14" x="974.6" y="1080.2">1</text>
<rect class="m" x="983.1" y="1067.1" width="16" height="16"/><text class="t f14 w" x="991.1" y="1080.2">1</text>
<rect class="g" x="966.6" y="1083.9" width="16" height="16"/><text class="t f14" x="974.6" y="1097">11</text>
<rect class="m" x="983.1" y="1083.9" width="16" height="16"/><text class="t f14 w" x="991.1" y="1097">1</text>
<rect class="m" x="966.6" y="1100.7" width="16" height="16"/><text class="t f14 w" x="974.6" y="1113.8">1</text>
<rect class="o" x="983.1" y="1100.7" width="16" height="16"/><text class="t f14" x="991.1" y="1113.8">1</text>
<rect class="e" x="1002" y="1100.7" width="16" height="16"/><text class="t f14" x="1010" y="1113.8">5</text>
<rect class="m" x="966.6" y="1117.5" width="16" height="16"/><text class="t f14 w" x="974.6" y="1130.6">1</text>
<rect class="m" x="966.6" y="1134.3" width="16" height="16"/><text class="t f14 w" x="974.6" y="1147.4">1</text>
</g>
<g id="f20-n8"><rect class="bk g" x="1101.7" y="1050" width="118" height="118" rx="10"/><text class="t L31" x="1160.7" y="1120.3">3</text></g>
<g id="f20-n9">
<rect class="cw" x="1238.8" y="1050" width="118" height="118" rx="10"/><rect class="y" x="1342.3" y="1054.5" width="14.5" height="110"/>
<text class="t cc" transform="translate(1349.8,1109) rotate(90)" y="4.7">Concat</text><text class="t r" x="1290.8" y="1165">R = 3</text>
<rect class="g" x="1241.3" y="1065.7" width="24.5" height="24.5"/><text class="t f15" x="1253.55" y="1083.6">5</text>
<rect class="m" x="1266.9" y="1065.7" width="24.5" height="24.5"/><text class="t f15 w" x="1279.15" y="1083.6">1</text>
<rect class="m" x="1241.3" y="1091.3" width="24.5" height="24.5"/><text class="t f15 w" x="1253.55" y="1109.2">1</text>
<rect class="e" x="1266.9" y="1091.3" width="24.5" height="24.5"/><text class="t f15" x="1279.15" y="1109.2">3</text>
<rect class="e" x="1294.3" y="1091.3" width="24.5" height="24.5"/><text class="t f15" x="1306.55" y="1109.2">11</text>
<rect class="m" x="1241.3" y="1116.9" width="24.5" height="24.5"/><text class="t f15 w" x="1253.55" y="1134.8">1</text>
<rect class="e" x="1266.9" y="1116.9" width="24.5" height="24.5"/><text class="t f15" x="1279.15" y="1134.8">5</text>
</g>
<g id="f20-n10"><rect class="bk b" x="1375.9" y="1050" width="118" height="118" rx="10"/><text class="t L31" x="1434.9" y="1120.3">1</text></g>
</g>

<!-- ================= FIGURE 21 ================= -->
<g id="fig21">
<g id="f21-n1"><rect class="bk o" x="142" y="1241" width="118" height="118" rx="10"/><text class="t L31" x="201" y="1311.3">3</text></g>
<g id="f21-n2"><rect class="bk g" x="279.1" y="1241" width="118" height="118" rx="10"/><text class="t L31" x="338.1" y="1311.3">1</text></g>
<g id="f21-n3">
<rect class="cw" x="416.2" y="1241" width="118" height="118" rx="10"/><rect class="y" x="519.7" y="1245.5" width="14.5" height="110"/>
<text class="t cc" transform="translate(527.2,1300) rotate(90)" y="4.7">Concat</text><text class="t r" x="468.2" y="1356">R = 2</text>
<rect class="g" x="418.5" y="1264.7" width="30.5" height="30.5"/><text class="t f17" x="433.75" y="1286.3">9</text>
<rect class="m" x="450.2" y="1264.7" width="30.5" height="30.5"/><text class="t f17 w" x="465.45" y="1286.3">1</text>
<rect class="m" x="418.5" y="1296" width="30.5" height="30.5"/><text class="t f17 w" x="433.75" y="1317.6">1</text>
</g>
<g id="f21-n4"><rect class="bk g" x="553.3" y="1241" width="118" height="118" rx="10"/><text class="t L31" x="612.3" y="1311.3">3</text></g>
<g id="f21-n5">
<rect class="cw" x="690.4" y="1241" width="118" height="118" rx="10"/><rect class="y" x="793.9" y="1245.5" width="14.5" height="110"/>
<text class="t cc" transform="translate(801.4,1300) rotate(90)" y="4.7">Concat</text><text class="t r" x="742.4" y="1356">R = 4</text>
<rect class="g" x="692" y="1264.7" width="30.5" height="30.5"/><text class="t f17" x="707.25" y="1286.3">7</text>
<rect class="m" x="724.3" y="1264.7" width="30.5" height="30.5"/><text class="t f17 w" x="739.55" y="1286.3">1</text>
<rect class="m" x="692" y="1296" width="30.5" height="30.5"/><text class="t f17 w" x="707.25" y="1317.6">1</text>
<rect class="e" x="724.3" y="1296" width="30.5" height="30.5"/><text class="t f17" x="739.55" y="1317.6">11</text>
</g>
<g id="f21-n6"><rect class="bk g" x="827.5" y="1241" width="118" height="118" rx="10"/><text class="t L31" x="886.5" y="1311.3">3</text></g>
<g id="f21-n7">
<rect class="cw" x="964.6" y="1241" width="118" height="118" rx="10"/><rect class="y" x="1068.1" y="1245.5" width="14.5" height="110"/>
<text class="t cc" transform="translate(1075.6,1300) rotate(90)" y="4.7">Concat</text><text class="t r" x="1016.6" y="1356">R = 5</text>
<rect class="m" x="966.6" y="1264.7" width="30.5" height="30.5"/><text class="t f17 w" x="981.85" y="1286.3">1</text>
<rect class="o" x="998.3" y="1264.7" width="30.5" height="30.5"/><text class="t f17" x="1013.55" y="1286.3">9</text>
<rect class="m" x="966.6" y="1296" width="30.5" height="30.5"/><text class="t f17 w" x="981.85" y="1317.6">1</text>
</g>
<g id="f21-n8"><rect class="bk g" x="1101.7" y="1241" width="118" height="118" rx="10"/><text class="t L31" x="1160.7" y="1311.3">3</text></g>
<g id="f21-n9">
<rect class="cw" x="1238.8" y="1241" width="118" height="118" rx="10"/><rect class="y" x="1342.3" y="1245.5" width="14.5" height="110"/>
<text class="t cc" transform="translate(1349.8,1300) rotate(90)" y="4.7">Concat</text><text class="t r" x="1290.8" y="1356">R = 4</text>
<rect class="m" x="1240.7" y="1250.7" width="21" height="21"/><text class="t f145 w" x="1251.2" y="1266.5">1</text>
<rect class="e" x="1263.2" y="1250.7" width="21" height="21"/><text class="t f145" x="1273.7" y="1266.5">1</text>
<rect class="o" x="1285.8" y="1250.7" width="21" height="21"/><text class="t f145" x="1296.3" y="1266.5">1</text>
<rect class="m" x="1240.7" y="1272.4" width="21" height="21"/><text class="t f145 w" x="1251.2" y="1288.2">1</text>
<rect class="o" x="1263.2" y="1272.4" width="21" height="21"/><text class="t f145" x="1273.7" y="1288.2">7</text>
<rect class="e" x="1285.8" y="1272.4" width="21" height="21"/><text class="t f145" x="1296.3" y="1288.2">3</text>
<rect class="m" x="1240.7" y="1294.1" width="21" height="21"/><text class="t f145 w" x="1251.2" y="1309.9">1</text>
<rect class="o" x="1263.2" y="1294.1" width="21" height="21"/><text class="t f145" x="1273.7" y="1309.9">1</text>
<rect class="m" x="1240.7" y="1315.8" width="21" height="21"/><text class="t f145 w" x="1251.2" y="1331.6">1</text>
<rect class="b" x="1263.2" y="1315.8" width="21" height="21"/><text class="t f145 w" x="1273.7" y="1331.6">7</text>
</g>
<g id="f21-n10"><rect class="bk b" x="1375.9" y="1241" width="118" height="118" rx="10"/><text class="t L31" x="1434.9" y="1311.3">1</text></g>
</g>

<!-- ================= FIGURE 22 ================= -->
<g id="fig22">
<g id="f22-n1"><rect class="bk o" x="142" y="1432" width="118" height="118" rx="10"/><text class="t L31" x="201" y="1502.3">3</text></g>
<g id="f22-n2"><rect class="bk g" x="279.1" y="1432" width="118" height="118" rx="10"/><text class="t L31" x="338.1" y="1502.3">1</text></g>
<g id="f22-n3">
<rect class="cw" x="416.2" y="1432" width="118" height="118" rx="10"/><rect class="y" x="519.7" y="1436.5" width="14.5" height="110"/>
<text class="t cc" transform="translate(527.2,1491) rotate(90)" y="4.7">Concat</text><text class="t r" x="468.2" y="1547">R = 2</text>
<rect class="g" x="418.5" y="1455.7" width="30.5" height="30.5"/><text class="t f17" x="433.75" y="1477.3">7</text>
<rect class="m" x="450.2" y="1455.7" width="30.5" height="30.5"/><text class="t f17 w" x="465.45" y="1477.3">1</text>
<rect class="m" x="418.5" y="1487" width="30.5" height="30.5"/><text class="t f17 w" x="433.75" y="1508.6">1</text>
<rect class="b" x="450.2" y="1487" width="30.5" height="30.5"/><text class="t f17 w" x="465.45" y="1508.6">1</text>
</g>
<g id="f22-n4"><rect class="bk g" x="553.3" y="1432" width="118" height="118" rx="10"/><text class="t L31" x="612.3" y="1502.3">1</text></g>
<g id="f22-n5">
<rect class="cw" x="690.4" y="1432" width="118" height="118" rx="10"/><rect class="y" x="793.9" y="1436.5" width="14.5" height="110"/>
<text class="t cc" transform="translate(801.4,1491) rotate(90)" y="4.7">Concat</text><text class="t r" x="742.4" y="1547">R = 4</text>
<rect class="g" x="692" y="1436.7" width="18.3" height="18.3"/><text class="t f14" x="701.15" y="1450.95">3</text>
<rect class="m" x="710.9" y="1436.7" width="18.3" height="18.3"/><text class="t f14 w" x="720.05" y="1450.95">1</text>
<rect class="m" x="692" y="1455.8" width="18.3" height="18.3"/><text class="t f14 w" x="701.15" y="1470.05">1</text>
<rect class="b" x="710.9" y="1455.8" width="18.3" height="18.3"/><text class="t f14 w" x="720.05" y="1470.05">5</text>
<rect class="m" x="692" y="1474.9" width="18.3" height="18.3"/><text class="t f14 w" x="701.15" y="1489.15">1</text>
<rect class="b" x="710.9" y="1474.9" width="18.3" height="18.3"/><text class="t f14 w" x="720.05" y="1489.15">1</text>
<rect class="m" x="692" y="1494" width="18.3" height="18.3"/><text class="t f14 w" x="701.15" y="1508.25">1</text>
<rect class="m" x="692" y="1513.1" width="18.3" height="18.3"/><text class="t f14 w" x="701.15" y="1527.35">1</text>
</g>
<g id="f22-n6"><rect class="bk g" x="827.5" y="1432" width="118" height="118" rx="10"/><text class="t L31" x="886.5" y="1502.3">1</text></g>
<g id="f22-n7">
<rect class="cw" x="964.6" y="1432" width="118" height="118" rx="10"/><rect class="y" x="1068.1" y="1436.5" width="14.5" height="110"/>
<text class="t cc" transform="translate(1075.6,1491) rotate(90)" y="4.7">Concat</text><text class="t r" x="1016.6" y="1547">R = 5</text>
<rect class="g" x="966.6" y="1441.7" width="21" height="21"/><text class="t f145" x="977.1" y="1457.5">11</text>
<rect class="m" x="988.6" y="1441.7" width="21" height="21"/><text class="t f145 w" x="999.1" y="1457.5">1</text>
<rect class="g" x="966.6" y="1463.4" width="21" height="21"/><text class="t f145" x="977.1" y="1479.2">7</text>
<rect class="m" x="988.6" y="1463.4" width="21" height="21"/><text class="t f145 w" x="999.1" y="1479.2">1</text>
<rect class="m" x="966.6" y="1485.1" width="21" height="21"/><text class="t f145 w" x="977.1" y="1500.9">1</text>
<rect class="e" x="988.6" y="1485.1" width="21" height="21"/><text class="t f145" x="999.1" y="1500.9">11</text>
<rect class="m" x="966.6" y="1506.8" width="21" height="21"/><text class="t f145 w" x="977.1" y="1522.6">1</text>
</g>
<g id="f22-n8"><rect class="bk g" x="1101.7" y="1432" width="118" height="118" rx="10"/><text class="t L31" x="1160.7" y="1502.3">1</text></g>
<g id="f22-n9">
<rect class="cw" x="1238.8" y="1432" width="118" height="118" rx="10"/><rect class="y" x="1342.3" y="1436.5" width="14.5" height="110"/>
<text class="t cc" transform="translate(1349.8,1491) rotate(90)" y="4.7">Concat</text><text class="t r" x="1290.8" y="1547">R = 3</text>
<rect class="g" x="1240.7" y="1447.7" width="24.5" height="24.5"/><text class="t f15" x="1252.95" y="1465.6">11</text>
<rect class="m" x="1266.9" y="1447.7" width="24.5" height="24.5"/><text class="t f15 w" x="1279.15" y="1465.6">1</text>
<rect class="m" x="1240.7" y="1473.3" width="24.5" height="24.5"/><text class="t f15 w" x="1252.95" y="1491.2">1</text>
<rect class="e" x="1266.9" y="1473.3" width="24.5" height="24.5"/><text class="t f15" x="1279.15" y="1491.2">3</text>
<rect class="m" x="1240.7" y="1498.9" width="24.5" height="24.5"/><text class="t f15 w" x="1252.95" y="1516.8">1</text>
<rect class="b" x="1266.9" y="1498.9" width="24.5" height="24.5"/><text class="t f15 w" x="1279.15" y="1516.8">1</text>
</g>
<g id="f22-n10"><rect class="bk b" x="1375.9" y="1432" width="118" height="118" rx="10"/><text class="t L31" x="1434.9" y="1502.3">1</text></g>
</g>

<!-- ================= FIGURE 23 ================= -->
<g id="fig23">
<g id="f23-n1"><rect class="bk o" x="142" y="1623" width="118" height="118" rx="10"/><text class="t L31" x="201" y="1693.3">3</text></g>
<g id="f23-n2"><rect class="bk g" x="279.1" y="1623" width="118" height="118" rx="10"/><text class="t L31" x="338.1" y="1693.3">1</text></g>
<g id="f23-n3">
<rect class="cw" x="416.2" y="1623" width="118" height="118" rx="10"/><rect class="y" x="519.7" y="1627.5" width="14.5" height="110"/>
<text class="t cc" transform="translate(527.2,1682) rotate(90)" y="4.7">Concat</text><text class="t r" x="468.2" y="1738">R = 2</text>
<rect class="g" x="418.5" y="1627.7" width="18" height="18"/><text class="t f14" x="427.5" y="1641.8">1</text>
<rect class="m" x="437.3" y="1627.7" width="18" height="18"/><text class="t f14 w" x="446.3" y="1641.8">1</text>
<rect class="g" x="418.5" y="1646.7" width="18" height="18"/><text class="t f14" x="427.5" y="1660.8">3</text>
<rect class="m" x="437.3" y="1646.7" width="18" height="18"/><text class="t f14 w" x="446.3" y="1660.8">1</text>
<rect class="g" x="418.5" y="1665.7" width="18" height="18"/><text class="t f14" x="427.5" y="1679.8">1</text>
<rect class="m" x="437.3" y="1665.7" width="18" height="18"/><text class="t f14 w" x="446.3" y="1679.8">1</text>
<rect class="m" x="418.5" y="1684.7" width="18" height="18"/><text class="t f14 w" x="427.5" y="1698.8">1</text>
<rect class="e" x="437.3" y="1684.7" width="18" height="18"/><text class="t f14" x="446.3" y="1698.8">1</text>
<rect class="o" x="457.5" y="1684.7" width="18" height="18"/><text class="t f14" x="466.5" y="1698.8">9</text>
<rect class="m" x="418.5" y="1703.7" width="18" height="18"/><text class="t f14 w" x="427.5" y="1717.8">1</text>
</g>
<g id="f23-n4"><rect class="bk g" x="553.3" y="1623" width="118" height="118" rx="10"/><text class="t L31" x="612.3" y="1693.3">3</text></g>
<g id="f23-n5">
<rect class="cw" x="690.4" y="1623" width="118" height="118" rx="10"/><rect class="y" x="793.9" y="1627.5" width="14.5" height="110"/>
<text class="t cc" transform="translate(801.4,1682) rotate(90)" y="4.7">Concat</text><text class="t r" x="742.4" y="1738">R = 3</text>
<rect class="g" x="692" y="1622.7" width="16" height="16"/><text class="t f14" x="700" y="1635.8">7</text>
<rect class="m" x="709.6" y="1622.7" width="16" height="16"/><text class="t f14 w" x="717.6" y="1635.8">1</text>
<rect class="g" x="692" y="1639.5" width="16" height="16"/><text class="t f14" x="700" y="1652.6">1</text>
<rect class="m" x="709.6" y="1639.5" width="16" height="16"/><text class="t f14 w" x="717.6" y="1652.6">1</text>
<rect class="m" x="692" y="1656.3" width="16" height="16"/><text class="t f14 w" x="700" y="1669.4">1</text>
<rect class="o" x="709.6" y="1656.3" width="16" height="16"/><text class="t f14" x="717.6" y="1669.4">11</text>
<rect class="b" x="727.3" y="1656.3" width="16" height="16"/><text class="t f14 w" x="735.3" y="1669.4">1</text>
<rect class="m" x="692" y="1673.1" width="16" height="16"/><text class="t f14 w" x="700" y="1686.2">1</text>
<rect class="e" x="709.6" y="1673.1" width="16" height="16"/><text class="t f14" x="717.6" y="1686.2">1</text>
<rect class="o" x="727.3" y="1673.1" width="16" height="16"/><text class="t f14" x="735.3" y="1686.2">11</text>
<rect class="m" x="692" y="1689.9" width="16" height="16"/><text class="t f14 w" x="700" y="1703">1</text>
<rect class="o" x="709.6" y="1689.9" width="16" height="16"/><text class="t f14" x="717.6" y="1703">5</text>
<rect class="b" x="727.3" y="1689.9" width="16" height="16"/><text class="t f14 w" x="735.3" y="1703">1</text>
<rect class="m" x="692" y="1706.7" width="16" height="16"/><text class="t f14 w" x="700" y="1719.8">1</text>
</g>
<g id="f23-n6"><rect class="bk g" x="827.5" y="1623" width="118" height="118" rx="10"/><text class="t L31" x="886.5" y="1693.3">3</text></g>
<g id="f23-n7">
<rect class="cw" x="964.6" y="1623" width="118" height="118" rx="10"/><rect class="y" x="1068.1" y="1627.5" width="14.5" height="110"/>
<text class="t cc" transform="translate(1075.6,1682) rotate(90)" y="4.7">Concat</text><text class="t r" x="1016.6" y="1738">R = 5</text>
<rect class="g" x="966.6" y="1638.7" width="24.5" height="24.5"/><text class="t f15" x="978.85" y="1656.6">9</text>
<rect class="m" x="992.9" y="1638.7" width="24.5" height="24.5"/><text class="t f15 w" x="1005.15" y="1656.6">1</text>
<rect class="g" x="966.6" y="1664.3" width="24.5" height="24.5"/><text class="t f15" x="978.85" y="1682.2">5</text>
<rect class="m" x="992.9" y="1664.3" width="24.5" height="24.5"/><text class="t f15 w" x="1005.15" y="1682.2">1</text>
<rect class="m" x="966.6" y="1689.9" width="24.5" height="24.5"/><text class="t f15 w" x="978.85" y="1707.8">1</text>
</g>
<g id="f23-n8"><rect class="bk g" x="1101.7" y="1623" width="118" height="118" rx="10"/><text class="t L31" x="1160.7" y="1693.3">3</text></g>
<g id="f23-n9">
<rect class="cw" x="1238.8" y="1623" width="118" height="118" rx="10"/><rect class="y" x="1342.3" y="1627.5" width="14.5" height="110"/>
<text class="t cc" transform="translate(1349.8,1682) rotate(90)" y="4.7">Concat</text><text class="t r" x="1290.8" y="1738">R = 4</text>
<rect class="g" x="1240.7" y="1646.7" width="30" height="30"/><text class="t f17" x="1255.7" y="1668">5</text>
<rect class="m" x="1272.4" y="1646.7" width="30" height="30"/><text class="t f17 w" x="1287.4" y="1668">1</text>
<rect class="m" x="1240.7" y="1677.7" width="30" height="30"/><text class="t f17 w" x="1255.7" y="1699">1</text>
<rect class="o" x="1272.4" y="1677.7" width="30" height="30"/><text class="t f17" x="1287.4" y="1699">1</text>
</g>
<g id="f23-n10"><rect class="bk b" x="1375.9" y="1623" width="118" height="118" rx="10"/><text class="t L31" x="1434.9" y="1693.3">1</text></g>
</g>

<!-- ================= FIGURE 24 ================= -->
<g id="fig24">
<g id="f24-n1"><rect class="bk o" x="142" y="1814" width="118" height="118" rx="10"/><text class="t L31" x="201" y="1884.3">3</text></g>
<g id="f24-n2"><rect class="bk g" x="279.1" y="1814" width="118" height="118" rx="10"/><text class="t L31" x="338.1" y="1884.3">1</text></g>
<g id="f24-n3">
<rect class="cw" x="416.2" y="1814" width="118" height="118" rx="10"/><rect class="y" x="519.7" y="1818.5" width="14.5" height="110"/>
<text class="t cc" transform="translate(527.2,1873) rotate(90)" y="4.7">Concat</text><text class="t r" x="468.2" y="1929">R = 2</text>
<rect class="g" x="418.5" y="1837.7" width="30.5" height="30.5"/><text class="t f17" x="433.75" y="1859.3">11</text>
<rect class="m" x="450.2" y="1837.7" width="30.5" height="30.5"/><text class="t f17 w" x="465.45" y="1859.3">1</text>
<rect class="m" x="418.5" y="1869" width="30.5" height="30.5"/><text class="t f17 w" x="433.75" y="1890.6">1</text>
<rect class="b" x="450.2" y="1869" width="30.5" height="30.5"/><text class="t f17 w" x="465.45" y="1890.6">3</text>
</g>
<g id="f24-n4"><rect class="bk g" x="553.3" y="1814" width="118" height="118" rx="10"/><text class="t L31" x="612.3" y="1884.3">3</text></g>
<g id="f24-n5">
<rect class="cw" x="690.4" y="1814" width="118" height="118" rx="10"/><rect class="y" x="793.9" y="1818.5" width="14.5" height="110"/>
<text class="t cc" transform="translate(801.4,1873) rotate(90)" y="4.7">Concat</text><text class="t r" x="742.4" y="1929">R = 3</text>
<rect class="m" x="692.6" y="1818.7" width="18.3" height="18.3"/><text class="t f14 w" x="701.75" y="1832.95">1</text>
<rect class="e" x="710.9" y="1818.7" width="18.3" height="18.3"/><text class="t f14" x="720.05" y="1832.95">1</text>
<rect class="e" x="732.8" y="1818.7" width="18.3" height="18.3"/><text class="t f14" x="741.95" y="1832.95">1</text>
<rect class="m" x="692.6" y="1837.8" width="18.3" height="18.3"/><text class="t f14 w" x="701.75" y="1852.05">1</text>
<rect class="e" x="710.9" y="1837.8" width="18.3" height="18.3"/><text class="t f14" x="720.05" y="1852.05">3</text>
<rect class="e" x="732.8" y="1837.8" width="18.3" height="18.3"/><text class="t f14" x="741.95" y="1852.05">1</text>
<rect class="m" x="692.6" y="1856.9" width="18.3" height="18.3"/><text class="t f14 w" x="701.75" y="1871.15">1</text>
<rect class="e" x="710.9" y="1856.9" width="18.3" height="18.3"/><text class="t f14" x="720.05" y="1871.15">3</text>
<rect class="b" x="732.8" y="1856.9" width="18.3" height="18.3"/><text class="t f14 w" x="741.95" y="1871.15">7</text>
<rect class="m" x="692.6" y="1876" width="18.3" height="18.3"/><text class="t f14 w" x="701.75" y="1890.25">1</text>
<rect class="m" x="692.6" y="1895.1" width="18.3" height="18.3"/><text class="t f14 w" x="701.75" y="1909.35">1</text>
</g>
<g id="f24-n6"><rect class="bk g" x="827.5" y="1814" width="118" height="118" rx="10"/><text class="t L31" x="886.5" y="1884.3">3</text></g>
<g id="f24-n7">
<rect class="cw" x="964.6" y="1814" width="118" height="118" rx="10"/><rect class="y" x="1068.1" y="1818.5" width="14.5" height="110"/>
<text class="t cc" transform="translate(1075.6,1873) rotate(90)" y="4.7">Concat</text><text class="t r" x="1016.6" y="1929">R = 5</text>
<rect class="m" x="967.4" y="1868" width="29.5" height="30.7"/><text class="t f17 w" x="982.15" y="1889.7">1</text>
<rect class="b" x="998" y="1868" width="29.5" height="30.7"/><text class="t f17 w" x="1012.75" y="1889.7">7</text>
<rect class="e" x="1031.5" y="1868" width="29.5" height="30.7"/><text class="t f17" x="1046.25" y="1889.7">3</text>
</g>
<g id="f24-n8"><rect class="bk g" x="1101.7" y="1814" width="118" height="118" rx="10"/><text class="t L31" x="1160.7" y="1884.3">3</text></g>
<g id="f24-n9">
<rect class="cw" x="1238.8" y="1814" width="118" height="118" rx="10"/><rect class="y" x="1342.3" y="1818.5" width="14.5" height="110"/>
<text class="t cc" transform="translate(1349.8,1873) rotate(90)" y="4.7">Concat</text><text class="t r" x="1290.8" y="1929">R = 5</text>
<rect class="m" x="1240.7" y="1813.7" width="16" height="16"/><text class="t f14 w" x="1248.7" y="1826.8">1</text>
<rect class="e" x="1258.4" y="1813.7" width="16" height="16"/><text class="t f14" x="1266.4" y="1826.8">9</text>
<rect class="e" x="1276" y="1813.7" width="16" height="16"/><text class="t f14" x="1284" y="1826.8">1</text>
<rect class="m" x="1240.7" y="1830.4" width="16" height="16"/><text class="t f14 w" x="1248.7" y="1843.5">1</text>
<rect class="e" x="1258.4" y="1830.4" width="16" height="16"/><text class="t f14" x="1266.4" y="1843.5">11</text>
<rect class="o" x="1276" y="1830.4" width="16" height="16"/><text class="t f14" x="1284" y="1843.5">5</text>
<rect class="m" x="1240.7" y="1847.1" width="16" height="16"/><text class="t f14 w" x="1248.7" y="1860.2">1</text>
<rect class="e" x="1258.4" y="1847.1" width="16" height="16"/><text class="t f14" x="1266.4" y="1860.2">11</text>
<rect class="m" x="1240.7" y="1863.8" width="16" height="16"/><text class="t f14 w" x="1248.7" y="1876.9">1</text>
<rect class="m" x="1240.7" y="1880.5" width="16" height="16"/><text class="t f14 w" x="1248.7" y="1893.6">1</text>
<rect class="m" x="1240.7" y="1897.2" width="16" height="16"/><text class="t f14 w" x="1248.7" y="1910.3">1</text>
</g>
<g id="f24-n10"><rect class="bk b" x="1375.9" y="1814" width="118" height="118" rx="10"/><text class="t L31" x="1434.9" y="1884.3">1</text></g>
</g>

<!-- connectors for figures 19-24 -->
<g id="connectors19-24">
<g id="c19">
<line class="ls" x1="260" y1="918" x2="273.6" y2="918" marker-end="url(#af)"/>
<line class="ls" x1="397.1" y1="918" x2="410.7" y2="918" marker-end="url(#af)"/>
<line class="ls" x1="534.2" y1="918" x2="547.8" y2="918" marker-end="url(#af)"/>
<line class="ls" x1="671.3" y1="918" x2="684.9" y2="918" marker-end="url(#af)"/>
<line class="ls" x1="808.4" y1="918" x2="822" y2="918" marker-end="url(#af)"/>
<line class="ls" x1="945.5" y1="918" x2="959.1" y2="918" marker-end="url(#af)"/>
<line class="ls" x1="1082.6" y1="918" x2="1096.2" y2="918" marker-end="url(#af)"/>
<line class="ls" x1="1219.7" y1="918" x2="1233.3" y2="918" marker-end="url(#af)"/>
<line class="ls" x1="1356.8" y1="918" x2="1370.4" y2="918" marker-end="url(#af)"/>
<line class="ls" x1="1493.9" y1="918" x2="1508.5" y2="918" marker-end="url(#af)"/>
</g>
<g id="c20">
<line class="ls" x1="260" y1="1109" x2="273.6" y2="1109" marker-end="url(#af)"/>
<line class="ls" x1="397.1" y1="1109" x2="410.7" y2="1109" marker-end="url(#af)"/>
<line class="ls" x1="534.2" y1="1109" x2="547.8" y2="1109" marker-end="url(#af)"/>
<line class="ls" x1="671.3" y1="1109" x2="684.9" y2="1109" marker-end="url(#af)"/>
<line class="ls" x1="808.4" y1="1109" x2="822" y2="1109" marker-end="url(#af)"/>
<line class="ls" x1="945.5" y1="1109" x2="959.1" y2="1109" marker-end="url(#af)"/>
<line class="ls" x1="1082.6" y1="1109" x2="1096.2" y2="1109" marker-end="url(#af)"/>
<line class="ls" x1="1219.7" y1="1109" x2="1233.3" y2="1109" marker-end="url(#af)"/>
<line class="ls" x1="1356.8" y1="1109" x2="1370.4" y2="1109" marker-end="url(#af)"/>
<line class="ls" x1="1493.9" y1="1109" x2="1508.5" y2="1109" marker-end="url(#af)"/>
</g>
<g id="c21">
<line class="ls" x1="260" y1="1300" x2="273.6" y2="1300" marker-end="url(#af)"/>
<line class="ls" x1="397.1" y1="1300" x2="410.7" y2="1300" marker-end="url(#af)"/>
<line class="ls" x1="534.2" y1="1300" x2="547.8" y2="1300" marker-end="url(#af)"/>
<line class="ls" x1="671.3" y1="1300" x2="684.9" y2="1300" marker-end="url(#af)"/>
<line class="ls" x1="808.4" y1="1300" x2="822" y2="1300" marker-end="url(#af)"/>
<line class="ls" x1="945.5" y1="1300" x2="959.1" y2="1300" marker-end="url(#af)"/>
<line class="ls" x1="1082.6" y1="1300" x2="1096.2" y2="1300" marker-end="url(#af)"/>
<line class="ls" x1="1219.7" y1="1300" x2="1233.3" y2="1300" marker-end="url(#af)"/>
<line class="ls" x1="1356.8" y1="1300" x2="1370.4" y2="1300" marker-end="url(#af)"/>
<line class="ls" x1="1493.9" y1="1300" x2="1508.5" y2="1300" marker-end="url(#af)"/>
</g>
<g id="c22">
<line class="ls" x1="260" y1="1491" x2="273.6" y2="1491" marker-end="url(#af)"/>
<line class="ls" x1="397.1" y1="1491" x2="410.7" y2="1491" marker-end="url(#af)"/>
<line class="ls" x1="534.2" y1="1491" x2="547.8" y2="1491" marker-end="url(#af)"/>
<line class="ls" x1="671.3" y1="1491" x2="684.9" y2="1491" marker-end="url(#af)"/>
<line class="ls" x1="808.4" y1="1491" x2="822" y2="1491" marker-end="url(#af)"/>
<line class="ls" x1="945.5" y1="1491" x2="959.1" y2="1491" marker-end="url(#af)"/>
<line class="ls" x1="1082.6" y1="1491" x2="1096.2" y2="1491" marker-end="url(#af)"/>
<line class="ls" x1="1219.7" y1="1491" x2="1233.3" y2="1491" marker-end="url(#af)"/>
<line class="ls" x1="1356.8" y1="1491" x2="1370.4" y2="1491" marker-end="url(#af)"/>
<line class="ls" x1="1493.9" y1="1491" x2="1508.5" y2="1491" marker-end="url(#af)"/>
</g>
<g id="c23">
<line class="ls" x1="260" y1="1682" x2="273.6" y2="1682" marker-end="url(#af)"/>
<line class="ls" x1="397.1" y1="1682" x2="410.7" y2="1682" marker-end="url(#af)"/>
<line class="ls" x1="534.2" y1="1682" x2="547.8" y2="1682" marker-end="url(#af)"/>
<line class="ls" x1="671.3" y1="1682" x2="684.9" y2="1682" marker-end="url(#af)"/>
<line class="ls" x1="808.4" y1="1682" x2="822" y2="1682" marker-end="url(#af)"/>
<line class="ls" x1="945.5" y1="1682" x2="959.1" y2="1682" marker-end="url(#af)"/>
<line class="ls" x1="1082.6" y1="1682" x2="1096.2" y2="1682" marker-end="url(#af)"/>
<line class="ls" x1="1219.7" y1="1682" x2="1233.3" y2="1682" marker-end="url(#af)"/>
<line class="ls" x1="1356.8" y1="1682" x2="1370.4" y2="1682" marker-end="url(#af)"/>
<line class="ls" x1="1493.9" y1="1682" x2="1508.5" y2="1682" marker-end="url(#af)"/>
</g>
<g id="c24">
<line class="ls" x1="260" y1="1873" x2="273.6" y2="1873" marker-end="url(#af)"/>
<line class="ls" x1="397.1" y1="1873" x2="410.7" y2="1873" marker-end="url(#af)"/>
<line class="ls" x1="534.2" y1="1873" x2="547.8" y2="1873" marker-end="url(#af)"/>
<line class="ls" x1="671.3" y1="1873" x2="684.9" y2="1873" marker-end="url(#af)"/>
<line class="ls" x1="808.4" y1="1873" x2="822" y2="1873" marker-end="url(#af)"/>
<line class="ls" x1="945.5" y1="1873" x2="959.1" y2="1873" marker-end="url(#af)"/>
<line class="ls" x1="1082.6" y1="1873" x2="1096.2" y2="1873" marker-end="url(#af)"/>
<line class="ls" x1="1219.7" y1="1873" x2="1233.3" y2="1873" marker-end="url(#af)"/>
<line class="ls" x1="1356.8" y1="1873" x2="1370.4" y2="1873" marker-end="url(#af)"/>
<line class="ls" x1="1493.9" y1="1873" x2="1508.5" y2="1873" marker-end="url(#af)"/>
</g>
</g>

<text class="cap" x="827" y="1014">Figure 19. Kinetics RGB Top 1 with ResNet Meta-Architecture.</text>
<text class="cap" x="827" y="1205">Figure 20. Kinetics RGB Top 2 with ResNet Meta-Architecture.</text>
<text class="cap" x="827" y="1396">Figure 21. Kinetics RGB Top 3 with ResNet Meta-Architecture.</text>
<text class="cap" x="827" y="1587">Figure 22. Kinetics optical flow Top 1 with ResNet Meta-Architecture.</text>
<text class="cap" x="827" y="1778">Figure 23. Kinetics optical flow Top 2 with ResNet Meta-Architecture.</text>
<text class="cap" x="827" y="1969">Figure 24. Kinetics optical flow Top 3 with ResNet Meta-Architecture.</text>
</svg>
